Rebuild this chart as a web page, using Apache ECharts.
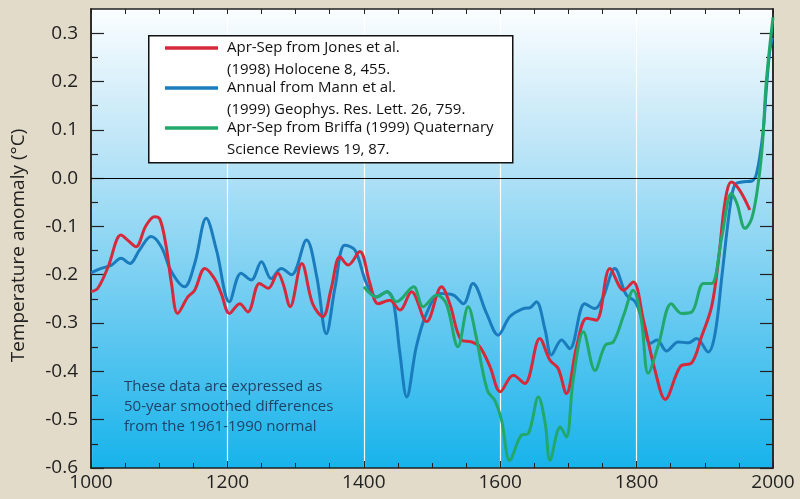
<!DOCTYPE html>
<html>
<head>
<meta charset="utf-8">
<script src="https://cdn.jsdelivr.net/npm/echarts@6/dist/echarts.min.js"></script>
<style>
html,body{margin:0;padding:0;background:#e3dbc9;}
#chart{width:800px;height:499px;}
</style>
</head>
<body>
<div id="chart"></div>
<script>
// ---- Data ----
var jonesYears = [1000,1010,1025,1044,1055,1066,1080,1093,1101,1110,1118,1127,1142,1152,1167,1181,1191,1203,1218,1230,1247,1260,1274,1282,1292,1309,1325,1340,1352,1365,1377,1394,1409,1421,1438,1453,1470,1492,1514,1526,1543,1558,1570,1585,1600,1619,1636,1658,1673,1685,1697,1712,1727,1741,1761,1781,1795,1810,1827,1842,1864,1881,1895,1910,1920,1930,1939,1951,1966];
var jonesVals  = [-0.235,-0.228,-0.184,-0.118,-0.130,-0.142,-0.100,-0.080,-0.085,-0.140,-0.218,-0.280,-0.246,-0.232,-0.187,-0.208,-0.239,-0.280,-0.260,-0.277,-0.218,-0.228,-0.197,-0.220,-0.266,-0.177,-0.260,-0.287,-0.230,-0.163,-0.180,-0.152,-0.218,-0.260,-0.253,-0.273,-0.235,-0.297,-0.225,-0.260,-0.335,-0.339,-0.349,-0.390,-0.442,-0.408,-0.425,-0.332,-0.377,-0.394,-0.446,-0.349,-0.290,-0.294,-0.187,-0.232,-0.215,-0.294,-0.398,-0.458,-0.390,-0.382,-0.329,-0.266,-0.170,-0.046,-0.008,-0.025,-0.066];

var mannYears = [1000,1015,1030,1044,1057,1071,1088,1103,1118,1137,1152,1169,1184,1203,1220,1235,1250,1264,1279,1294,1316,1331,1345,1358,1372,1387,1404,1419,1434,1443,1453,1463,1477,1492,1512,1531,1546,1560,1580,1597,1614,1634,1644,1653,1666,1675,1690,1702,1724,1739,1751,1768,1785,1798,1810,1820,1830,1844,1861,1876,1888,1905,1915,1925,1937,1944,1954,1969,1976,1985,1990,1995,1999];
var mannVals  = [-0.196,-0.187,-0.180,-0.166,-0.177,-0.149,-0.121,-0.142,-0.194,-0.225,-0.177,-0.083,-0.149,-0.256,-0.197,-0.211,-0.173,-0.208,-0.187,-0.200,-0.128,-0.204,-0.322,-0.225,-0.139,-0.149,-0.218,-0.246,-0.235,-0.253,-0.363,-0.453,-0.349,-0.280,-0.239,-0.242,-0.260,-0.218,-0.280,-0.325,-0.287,-0.270,-0.268,-0.256,-0.315,-0.366,-0.335,-0.353,-0.260,-0.270,-0.246,-0.187,-0.242,-0.256,-0.301,-0.342,-0.335,-0.358,-0.339,-0.341,-0.332,-0.360,-0.322,-0.204,-0.059,-0.014,-0.008,-0.006,0.010,0.090,0.180,0.260,0.290];

var briffaYears = [1400,1419,1434,1448,1473,1487,1507,1521,1538,1553,1565,1573,1582,1592,1602,1614,1631,1641,1656,1666,1673,1688,1697,1707,1722,1739,1754,1766,1781,1795,1807,1817,1832,1851,1866,1881,1898,1910,1925,1939,1947,1959,1969,1979,1985,1990,2000];
var briffaVals  = [-0.225,-0.246,-0.235,-0.256,-0.225,-0.266,-0.242,-0.260,-0.349,-0.266,-0.330,-0.390,-0.442,-0.460,-0.501,-0.584,-0.532,-0.529,-0.453,-0.508,-0.584,-0.515,-0.536,-0.418,-0.318,-0.398,-0.346,-0.339,-0.284,-0.232,-0.294,-0.404,-0.345,-0.260,-0.280,-0.277,-0.218,-0.218,-0.121,-0.032,-0.052,-0.104,-0.083,-0.004,0.079,0.197,0.333];

var yMajorTicks = [-0.6,-0.5,-0.4,-0.3,-0.2,-0.1,0.0,0.1,0.2,0.3];
var yMinorTicks = [-0.55,-0.45,-0.35,-0.25,-0.15,-0.05,0.05,0.15,0.25];

var legendLines = [
  ["Apr-Sep from Jones et al.", "(1998) Holocene 8, 455."],
  ["Annual from Mann et al.", "(1999) Geophys. Res. Lett. 26, 759."],
  ["Apr-Sep from Briffa (1999) Quaternary", "Science Reviews 19, 87."]
];
var noteLines = ["These data are expressed as", "50-year smoothed differences", "from the 1961-1990 normal"];

var RED = '#d52a3b', BLUE = '#1a7cbd', GREEN = '#22a86b';
var FONT = '"Open Sans", "Noto Sans", sans-serif';

function zip(xs, ys){ return xs.map(function(x,i){ return [x, ys[i]]; }); }

var chart = echarts.init(document.getElementById('chart'), null, {renderer:'canvas'});

var axisLineStyle = {color:'#222', width:1.5};

function yAx(pos, ticks, len, labels){
  return {
    type:'value', position:pos, min:-0.6, max:0.35, offset:0,
    axisLine:{show:true, lineStyle:axisLineStyle},
    axisTick:{show:true, inside:true, length:len, customValues:ticks, lineStyle:{color:'#222', width:1.2}},
    axisLabel: labels ? {show:true, customValues:yMajorTicks, margin:13, fontSize:19, color:'#222', fontFamily:FONT,
                 formatter:function(v){ return v.toFixed(1); }} : {show:false},
    splitLine:{show:false},
    name: labels ? 'Temperature anomaly (°C)' : '',
    nameLocation:'middle', nameGap:63, nameRotate:90,
    nameTextStyle:{fontSize:19, color:'#222', fontFamily:FONT, padding:[0,14,0,0]}
  };
}

var graphics = [];
// legend box
graphics.push({type:'rect', left:148, top:35, z:100, shape:{width:364, height:127},
  style:{fill:'#ffffff', stroke:'#111', lineWidth:1.5}});
var legColors = [RED, BLUE, GREEN];
var legY = [48, 88, 128];
for (var i=0;i<3;i++){
  graphics.push({type:'line', z:101, shape:{x1:165, y1:legY[i], x2:218, y2:legY[i]},
    style:{stroke:legColors[i], lineWidth:3.5}});
  graphics.push({type:'text', z:101, x:227, y:legY[i], style:{text:legendLines[i][0], fill:'#111',
    font:'15px ' + FONT, textVerticalAlign:'middle'}});
  graphics.push({type:'text', z:101, x:227, y:legY[i]+22, style:{text:legendLines[i][1], fill:'#111',
    font:'15px ' + FONT, textVerticalAlign:'middle'}});
}
for (var j=0;j<noteLines.length;j++){
  graphics.push({type:'text', z:101, x:124, y:387 + j*20, style:{text:noteLines[j], fill:'#1d4467',
    font:'15px ' + FONT, textVerticalAlign:'middle'}});
}

var option = {
  animation:false,
  backgroundColor:'#e3dbc9',
  grid:{left:91, right:27, top:9, bottom:31, show:true, borderWidth:0,
    backgroundColor:{type:'linear', x:0, y:0, x2:0, y2:1, colorStops:[
      {offset:0, color:'#fbfdff'}, {offset:0.3, color:'#bde5f7'}, {offset:0.65, color:'#6ccbf1'}, {offset:1, color:'#17b3eb'}]}},
  xAxis:[
    {type:'value', position:'bottom', min:1000, max:2000, interval:200,
     axisLine:{show:true, onZero:false, lineStyle:axisLineStyle},
     axisTick:{show:true, inside:true, length:7, lineStyle:{color:'#222', width:1}},
     minorTick:{show:true, splitNumber:4, length:5, lineStyle:{color:'#222', width:1}},
     axisLabel:{show:true, margin:5, fontSize:19, color:'#222', fontFamily:FONT,
       formatter:function(v){ return String(v); }},
     splitLine:{show:true, lineStyle:{color:'#ffffff', width:1.2}}},
    {type:'value', position:'top', min:1000, max:2000, interval:50,
     axisLine:{show:true, onZero:false, lineStyle:axisLineStyle},
     axisTick:{show:true, inside:true, length:5, lineStyle:{color:'#222', width:1}},
     axisLabel:{show:false}, splitLine:{show:false}}
  ],
  yAxis:[
    yAx('left', yMajorTicks, 13, true),
    yAx('left', yMinorTicks, 7, false),
    yAx('right', yMajorTicks, 13, false),
    yAx('right', yMinorTicks, 7, false)
  ],
  series:[
    {name:'Mann', type:'line', xAxisIndex:0, yAxisIndex:0, data:zip(mannYears, mannVals), smooth:0.35,
     showSymbol:false, lineStyle:{color:BLUE, width:3}, itemStyle:{color:BLUE}, z:3,
     markLine:{silent:true, symbol:'none', label:{show:false}, lineStyle:{color:'#000', width:1, type:'solid'},
       data:[{yAxis:0}]}},
    {name:'Jones', type:'line', xAxisIndex:0, yAxisIndex:0, data:zip(jonesYears, jonesVals), smooth:0.35,
     showSymbol:false, lineStyle:{color:RED, width:3}, itemStyle:{color:RED}, z:4},
    {name:'Briffa', type:'line', xAxisIndex:0, yAxisIndex:0, data:zip(briffaYears, briffaVals), smooth:0.35,
     showSymbol:false, lineStyle:{color:GREEN, width:3}, itemStyle:{color:GREEN}, z:5}
  ],
  graphic:graphics
};
chart.setOption(option);
</script>
</body>
</html>
